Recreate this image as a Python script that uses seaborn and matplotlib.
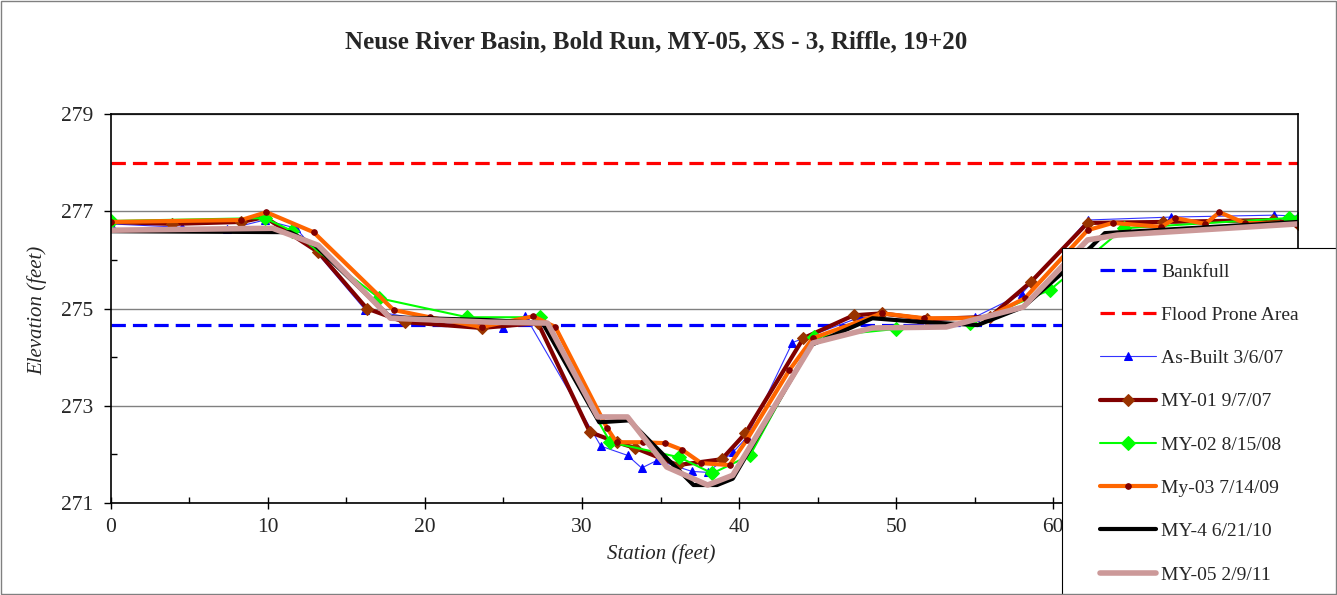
import matplotlib
matplotlib.use("Agg")
import matplotlib.pyplot as plt
import seaborn as sns
from matplotlib.patches import Rectangle
from matplotlib.ticker import MultipleLocator

# reference elevations
bankfull = 274.66
flood_prone = 278.0

asbuilt_x = [0, 4.5, 7.4, 9.8, 11.8, 16.2, 21.0, 25.0, 26.4, 31.2, 32.9, 33.8, 34.8, 37.0, 38.0,
             39.6, 40.5, 43.4, 47.7, 51.5, 55.0, 58.0, 62.2, 67.5, 74.1, 75.6]
asbuilt_y = [276.74, 276.67, 276.63, 276.82, 276.65, 274.97, 274.72, 274.6, 274.84, 272.17, 271.98,
             271.72, 271.88, 271.65, 271.63, 272.04, 272.35, 274.3, 274.82, 274.72, 274.82, 275.3,
             276.82, 276.88, 276.92, 276.9]

my01_x = [0, 3.9, 8.3, 9.8, 13.2, 16.3, 18.7, 23.6, 27.2, 30.5, 32.2, 33.4, 36.1, 38.9, 40.4,
          44.1, 47.3, 49.1, 52.0, 56.0, 58.6, 62.2, 67.0, 74.0, 75.6]
my01_y = [276.78, 276.74, 276.78, 276.88, 276.16, 275.0, 274.72, 274.6, 274.7, 272.46, 272.25,
          272.13, 271.78, 271.9, 272.43, 274.39, 274.86, 274.9, 274.78, 274.83, 275.55, 276.76,
          276.78, 276.82, 276.74]

my02_x = [0, 9.8, 11.5, 17.1, 22.7, 27.3, 31.8, 36.2, 38.3, 40.7, 44.8, 50.0, 54.7, 59.8, 64.5,
          75.0, 75.6]
my02_y = [276.8, 276.86, 276.6, 275.21, 274.82, 274.82, 272.25, 271.94, 271.61, 271.98, 274.41,
          274.58, 274.7, 275.38, 276.65, 276.86, 276.83]

my03_x = [0, 8.3, 9.9, 12.9, 18.0, 20.3, 23.6, 26.9, 28.3, 31.6, 32.2, 33.9, 35.3, 36.4, 37.6,
          39.4, 40.5, 43.2, 44.7, 49.1, 51.8, 55.7, 58.2, 62.2, 63.8, 66.9, 67.8, 69.7, 70.6,
          72.2, 75.5]
my03_y = [276.78, 276.82, 276.98, 276.57, 274.97, 274.82, 274.62, 274.84, 274.62, 272.54, 272.25,
          272.25, 272.23, 272.09, 271.82, 271.78, 272.3, 273.73, 274.39, 274.9, 274.8, 274.8,
          275.21, 276.61, 276.76, 276.68, 276.86, 276.74, 276.98, 276.76, 276.74]

my4_x = [0, 11.4, 13.0, 17.8, 24.1, 27.5, 31.1, 33.0, 37.1, 38.6, 39.6, 44.6, 48.5, 51.7, 55.2,
         58.1, 60.3, 62.4, 63.3, 75.6]
my4_y = [276.59, 276.57, 276.3, 274.82, 274.76, 274.7, 272.66, 272.7, 271.37, 271.37, 271.5,
         274.25, 274.8, 274.72, 274.66, 275.03, 275.65, 276.26, 276.55, 276.78]

my05_x = [0, 10.3, 13.2, 17.8, 24.1, 27.8, 31.0, 32.9, 35.4, 38.0, 39.6, 44.7, 48.5, 53.2, 58.1,
          62.2, 64.1, 75.6]
my05_y = [276.61, 276.65, 276.3, 274.8, 274.72, 274.7, 272.77, 272.77, 271.74, 271.37, 271.57,
          274.29, 274.6, 274.62, 275.03, 276.41, 276.51, 276.74]

x_ticks = [0, 10, 20, 30, 40, 50, 60, 70]
y_ticks = [271, 273, 275, 277, 279]

sns.set_theme(style="white")
plt.rcParams["font.family"] = ["Liberation Serif", "DejaVu Serif"]

fig = plt.figure(figsize=(13.37, 5.95), dpi=100)
ax = fig.add_axes([0.0830, 0.1546, 0.8878, 0.6538])

ax.axhline(bankfull, color="#0000FF", lw=2.3, dashes=(4.5, 2.2), label="Bankfull")
ax.axhline(flood_prone, color="#FF0000", lw=2.3, dashes=(4.5, 2.2), label="Flood Prone Area")

sns.lineplot(x=asbuilt_x, y=asbuilt_y, ax=ax, sort=False, estimator=None, color="#3333FF",
             lw=0.8, marker="^", ms=6, mec="#0000FF", mfc="#0000FF", label="As-Built 3/6/07")
sns.lineplot(x=my01_x, y=my01_y, ax=ax, sort=False, estimator=None, color="#800000",
             lw=3, marker="D", ms=6, mec="#993300", mfc="#993300", label="MY-01 9/7/07")
sns.lineplot(x=my02_x, y=my02_y, ax=ax, sort=False, estimator=None, color="#00FF00",
             lw=1.5, marker="D", ms=7, mec="#00FF00", mfc="#00FF00", label="MY-02 8/15/08")
sns.lineplot(x=my03_x, y=my03_y, ax=ax, sort=False, estimator=None, color="#FF6600",
             lw=3, marker="o", ms=4, mec="#800000", mfc="#800000", label="My-03 7/14/09")
sns.lineplot(x=my4_x, y=my4_y, ax=ax, sort=False, estimator=None, color="black",
             lw=3, label="MY-4 6/21/10")
sns.lineplot(x=my05_x, y=my05_y, ax=ax, sort=False, estimator=None, color="#CC9999",
             lw=4, label="MY-05 2/9/11")

ax.set_xlim(0, 75.6)
ax.set_ylim(271, 279)
ax.set_xticks(x_ticks)
ax.set_yticks(y_ticks)
ax.xaxis.set_minor_locator(MultipleLocator(5))
ax.yaxis.set_minor_locator(MultipleLocator(1))
ax.grid(False)
ax.grid(axis="y", which="major", color="#808080", lw=1)
for s in ax.spines.values():
    s.set_color("black")
    s.set_linewidth(1.2)

ax.tick_params(axis="x", which="major", direction="inout", length=9, width=1, color="black",
               labelsize=15.5, pad=6, bottom=True)
ax.tick_params(axis="x", which="minor", direction="in", length=4, width=1, color="black", bottom=True)
ax.tick_params(axis="y", which="major", direction="out", length=5, width=1, color="black",
               labelsize=15.5, pad=8, left=True)
ax.tick_params(axis="y", which="minor", direction="in", length=4, width=1, color="black", left=True)

ax.set_xlabel("Station (feet)", fontsize=15, style="italic")
ax.set_ylabel("Elevation (feet)", fontsize=15, style="italic")
ax.xaxis.set_label_coords(0.464, -0.105)
ax.yaxis.set_label_coords(-0.054, 0.495)

fig.text(0.4907, 0.929, "Neuse River Basin, Bold Run, MY-05, XS - 3, Riffle, 19+20",
         ha="center", va="center", fontsize=18, fontweight="bold")

# the "70" label sits fully under the legend box in the original
fig.canvas.draw()
for lbl in ax.get_xticklabels():
    if lbl.get_text() == "70":
        lbl.set_visible(False)

# legend box drawn separately so it can run off the figure edge like the original
fig.patches.append(Rectangle((1062 / 1337, -0.05), 0.3, (595 - 248) / 595 + 0.05,
                             transform=fig.transFigure, facecolor="white",
                             edgecolor="black", lw=0.8, zorder=2))
handles, labels = ax.get_legend_handles_labels()
ax.get_legend().remove()
fig.legend(handles, labels, loc="upper left", bbox_to_anchor=(1100 / 1337, 1 - 263 / 595),
           borderaxespad=0, borderpad=0, frameon=False, fontsize=14, handlelength=2.9,
           handletextpad=0.25, labelspacing=1.32)

fig.patches.append(Rectangle((0.0008, 0.0017), 0.9984, 0.9966, transform=fig.transFigure,
                             fill=False, edgecolor="#808080", lw=1, zorder=3))

plt.savefig("out.png", dpi=100)
